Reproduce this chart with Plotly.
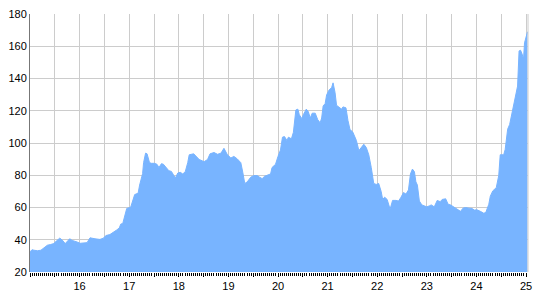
import plotly.graph_objects as go

x_vals = [15.00, 15.04, 15.08, 15.15, 15.22, 15.30, 15.35, 15.41, 15.48, 15.53, 15.60, 15.65, 15.71, 15.80, 15.85, 15.95,
          16.01, 16.15, 16.21, 16.31, 16.41, 16.48, 16.53, 16.61, 16.68, 16.75, 16.80, 16.83, 16.87, 16.91, 16.95,
          17.03, 17.07, 17.11, 17.18, 17.21, 17.27, 17.29, 17.33, 17.36, 17.41, 17.45, 17.51, 17.56, 17.60, 17.65, 17.69,
          17.75, 17.80, 17.85, 17.89, 17.93, 17.98,
          18.03, 18.08, 18.13, 18.18, 18.21, 18.30, 18.35, 18.41, 18.51, 18.58, 18.63, 18.71, 18.78, 18.85, 18.91, 18.98,
          19.05, 19.11, 19.18, 19.25, 19.29, 19.33, 19.38, 19.45, 19.51, 19.58, 19.63, 19.68, 19.73, 19.78, 19.85, 19.88, 19.95,
          20.00, 20.05, 20.09, 20.13, 20.18, 20.21, 20.27, 20.31, 20.36, 20.40, 20.43, 20.48, 20.51, 20.57, 20.61, 20.65,
          20.69, 20.75, 20.80, 20.85, 20.88, 20.91, 20.95, 20.98,
          21.03, 21.08, 21.11, 21.15, 21.18, 21.25, 21.28, 21.31, 21.37, 21.41, 21.45, 21.51, 21.58, 21.63, 21.68, 21.73,
          21.78, 21.83, 21.88, 21.93, 21.98,
          22.03, 22.08, 22.11, 22.15, 22.20, 22.26, 22.31, 22.38, 22.43, 22.48, 22.53, 22.58, 22.63, 22.67, 22.71, 22.75,
          22.78, 22.81, 22.85, 22.90, 22.95,
          23.00, 23.05, 23.09, 23.15, 23.21, 23.27, 23.31, 23.38, 23.43, 23.48, 23.55, 23.61, 23.68, 23.73, 23.78, 23.85,
          23.91, 23.96,
          24.01, 24.08, 24.15, 24.19, 24.25, 24.28, 24.33, 24.40, 24.45, 24.48, 24.55, 24.58, 24.63, 24.67, 24.71, 24.76,
          24.80, 24.83, 24.86, 24.89, 24.92, 24.95, 24.97, 25.00, 25.03]

y_vals = [32.5, 33.8, 33.5, 33.2, 33.5, 35.5, 36.6, 37.0, 37.6, 39.2, 41.0, 39.8, 37.6, 40.6, 39.6, 38.6,
          37.8, 38.2, 41.2, 40.6, 40.2, 41.0, 42.6, 43.2, 44.5, 46.1, 47.3, 49.7, 50.1, 55.0, 59.4,
          60.2, 64.0, 68.0, 68.9, 73.9, 81.0, 87.8, 93.7, 93.3, 87.8, 87.4, 87.4, 86.8, 84.8, 87.2, 86.8,
          84.2, 82.8, 82.4, 80.2, 78.3, 81.4,
          81.8, 80.8, 82.2, 87.8, 92.7, 93.3, 91.7, 89.8, 88.4, 89.8, 93.3, 94.1, 93.0, 93.7, 96.7, 92.7,
          90.7, 91.7, 90.1, 87.8, 81.8, 74.9, 75.9, 78.8, 79.8, 79.8, 78.8, 77.9, 79.4, 80.2, 80.8, 84.8, 86.8,
          91.7, 95.7, 103.6, 104.0, 101.6, 103.6, 102.6, 106.6, 120.5, 121.0, 117.5, 115.1, 117.5, 121.0, 119.5, 115.5,
          118.5, 118.5, 114.5, 112.5, 115.5, 123.0, 124.4, 129.8,
          132.9, 134.3, 137.3, 131.3, 123.4, 121.8, 121.0, 122.4, 121.8, 114.0, 108.5, 106.6, 101.6, 95.3, 97.2, 99.2,
          97.2, 92.7, 84.8, 74.9, 74.3,
          74.9, 69.9, 65.0, 66.4, 65.0, 59.0, 64.4, 64.4, 64.0, 66.4, 69.3, 68.3, 70.9, 80.8, 83.8, 82.2,
          75.9, 73.9, 64.0, 61.6, 61.0,
          60.4, 61.0, 61.6, 60.4, 64.4, 63.6, 65.0, 65.4, 62.0, 61.6, 60.0, 58.8, 57.6, 59.6, 60.0, 59.6,
          59.4, 58.4,
          58.6, 57.6, 56.4, 57.0, 62.0, 67.0, 70.3, 72.3, 79.8, 92.7, 92.7, 96.0, 108.6, 111.5, 117.5, 123.4,
          129.4, 135.3, 157.1, 157.5, 155.2, 152.2, 162.1, 166.1, 169.0]

x_tick_vals = [15 + 0.5 * i for i in range(21)]
x_tick_text = ["" if (v == 15 or v != int(v)) else str(int(v)) for v in x_tick_vals]
y_tick_vals = [20, 40, 60, 80, 100, 120, 140, 160, 180]

fig = go.Figure()
fig.add_trace(go.Scatter(
    x=x_vals, y=y_vals, mode="lines", fill="tozeroy",
    line=dict(color="#78b4ff", width=1), fillcolor="#78b4ff",
    hoverinfo="skip", showlegend=False,
))

font = dict(family="Liberation Sans, Arial, sans-serif", size=11, color="#000000")

fig.update_layout(
    width=540, height=300,
    margin=dict(l=29, r=9, t=8, b=23),
    paper_bgcolor="white", plot_bgcolor="white",
    font=font,
    xaxis=dict(
        range=[15, 25.04], tickmode="array", tickvals=x_tick_vals, ticktext=x_tick_text,
        showgrid=True, gridcolor="#cccccc", gridwidth=1,
        ticks="outside", ticklen=4, tickcolor="#000000", tickwidth=1,
        minor=dict(tickmode="linear", tick0=15, dtick=1/24, ticks="outside", ticklen=3,
                   tickcolor="#000000", tickwidth=1, showgrid=False),
        showline=False, zeroline=False, tickfont=font,
    ),
    yaxis=dict(
        range=[20, 180], tickmode="array", tickvals=y_tick_vals,
        showgrid=True, gridcolor="#cccccc", gridwidth=1,
        showline=True, linecolor="#777777", linewidth=1,
        ticks="", zeroline=False, tickfont=font,
    ),
    shapes=[dict(type="line", xref="paper", yref="paper", x0=1, x1=1, y0=0, y1=1,
                 line=dict(color="#cccccc", width=1), layer="above")],
)

fig.write_html("out.html")
